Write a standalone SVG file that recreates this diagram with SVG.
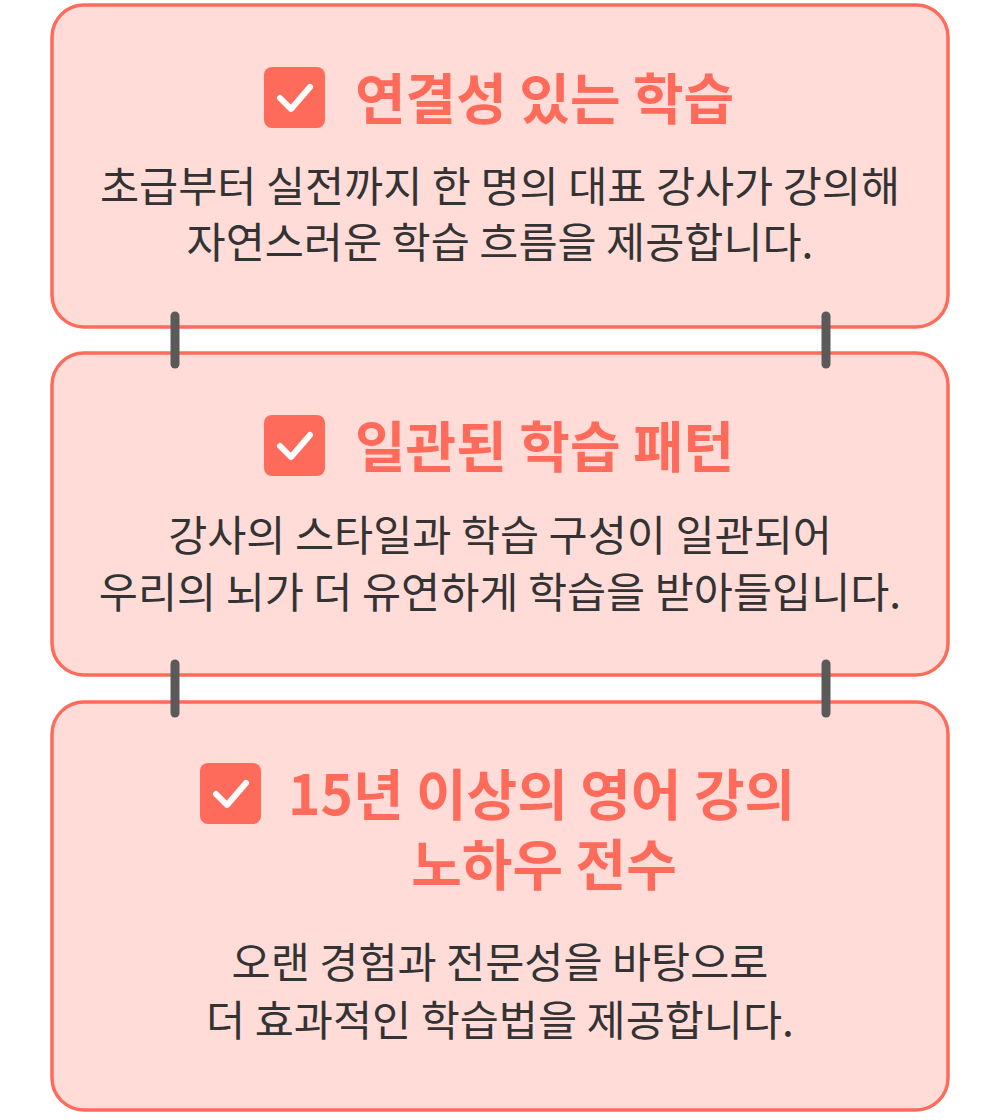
<svg xmlns="http://www.w3.org/2000/svg" width="1000" height="1120" viewBox="0 0 1000 1120">
<style>
.box{fill:#FFDCD8;stroke:#FF6B5B;stroke-width:3.5}
.cb{fill:#FF6B5B}
.ck{fill:none;stroke:#fff;stroke-width:6;stroke-linecap:round;stroke-linejoin:round}
.t{font-family:"Noto Sans CJK KR","Noto Sans",sans-serif;font-weight:700;font-size:55px;fill:#FF6B5B}
.b{font-family:"Noto Sans CJK KR","Noto Sans",sans-serif;font-size:42.5px;fill:#333;text-anchor:middle}
.con{stroke:#5a5a5a;stroke-width:9;stroke-linecap:round}
</style>
<rect width="1000" height="1120" fill="#fff"/>
<g id="node1">
<rect class="box" x="52" y="5" width="896" height="322" rx="32"/>
<rect class="cb" x="264" y="67" width="61" height="61" rx="8"/>
<path class="ck" d="M280 98 L291 109 L310 87"/>
<text class="t" x="355" y="119">연결성 있는 학습</text>
<text class="b" x="500" y="202">초급부터 실전까지 한 명의 대표 강사가 강의해</text>
<text class="b" x="500" y="258">자연스러운 학습 흐름을 제공합니다.</text>
</g>
<g id="node2">
<rect class="box" x="52" y="353" width="896" height="322" rx="32"/>
<rect class="cb" x="264" y="415" width="61" height="61" rx="8"/>
<path class="ck" d="M280 446 L291 457 L310 435"/>
<text class="t" x="355" y="467">일관된 학습 패턴</text>
<text class="b" x="500" y="551">강사의 스타일과 학습 구성이 일관되어</text>
<text class="b" x="500" y="608">우리의 뇌가 더 유연하게 학습을 받아들입니다.</text>
</g>
<g id="node3">
<rect class="box" x="52" y="702" width="896" height="408" rx="32"/>
<rect class="cb" x="200" y="763" width="61" height="61" rx="8"/>
<path class="ck" d="M216 794 L227 805 L246 783"/>
<text class="t" x="288" y="815">15년 이상의 영어 강의</text>
<text class="t" x="544" y="885" text-anchor="middle">노하우 전수</text>
<text class="b" x="500" y="978">오랜 경험과 전문성을 바탕으로</text>
<text class="b" x="500" y="1036">더 효과적인 학습법을 제공합니다.</text>
</g>
<g id="connectors">
<line class="con" x1="175" y1="316" x2="175" y2="364"/>
<line class="con" x1="826" y1="316" x2="826" y2="364"/>
<line class="con" x1="175" y1="664" x2="175" y2="713"/>
<line class="con" x1="826" y1="664" x2="826" y2="713"/>
</g>
</svg>
